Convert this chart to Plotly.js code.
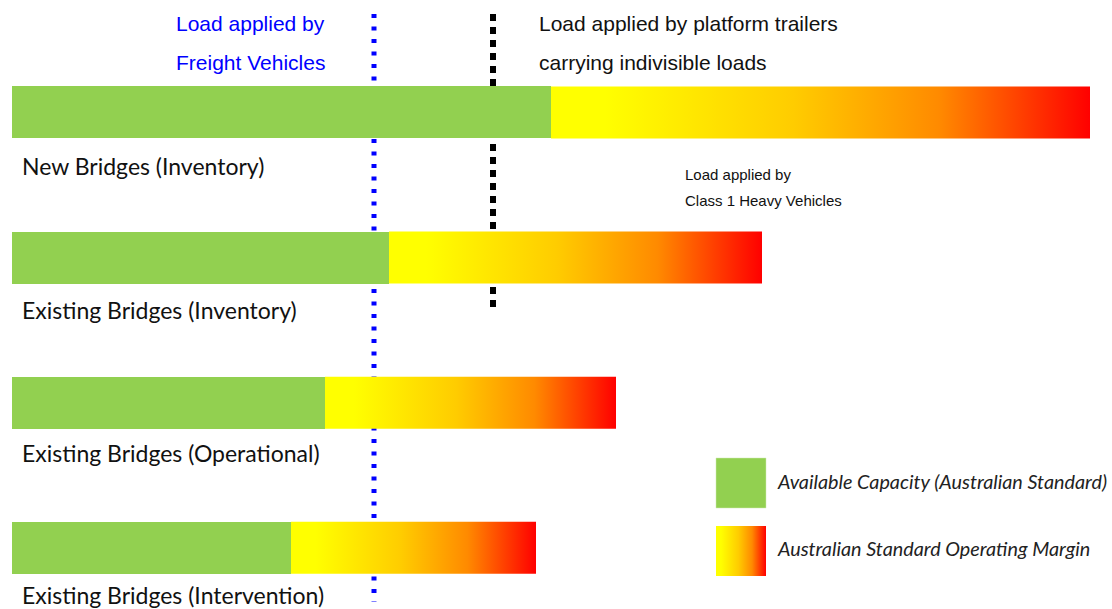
<!DOCTYPE html>
<html>
<head>
<meta charset="utf-8">
<script src="https://cdn.plot.ly/plotly-3.0.1.min.js"></script>
<style>html,body{margin:0;padding:0;background:#fff;}#chart{width:1112px;height:609px;}</style>
</head>
<body>
<div id="chart"></div>
<script>
// ---- data ----
const categories = ["New Bridges (Inventory)", "Existing Bridges (Inventory)", "Existing Bridges (Operational)", "Existing Bridges (Intervention)"];
const availableCapacity = [539, 377, 313, 279];      // green segment end
const operatingLimit = [1078, 750, 604, 524];        // end of operating margin
const freightLoad = 362;                              // blue dotted line
const platformTrailerLoad = 481;                      // black dotted line
const legendLabels = ["Available Capacity (Australian Standard)", "Australian Standard Operating Margin"];

// ---- styling ----
const W = 1112, H = 609;
const GREEN = '#92D050';
const gradScale = [[0, '#ffff00'], [0.1, '#ffff00'], [0.45, '#ffcc00'], [0.72, '#ff8a00'], [1, '#ff0000']];
const barHalf = 0.179;
const labelShift = [-54, -52, -50, -47];
const px = v => v / W;
const py = v => 1 - v / H;

const yIdx = categories.map((_, i) => i);

const traces = [];
traces.push({
  type: 'bar', orientation: 'h',
  y: yIdx, x: availableCapacity, base: 0,
  width: barHalf * 2,
  marker: {color: GREEN, line: {width: 0}},
  hoverinfo: 'skip', showlegend: false
});
categories.forEach((c, i) => {
  const g = availableCapacity[i], t = operatingLimit[i];
  traces.push({
    type: 'scatter', mode: 'lines',
    x: [g, t, t, g, g],
    y: [i - barHalf, i - barHalf, i + barHalf, i + barHalf, i - barHalf],
    fill: 'toself',
    fillcolor: '#ffcc00',
    fillgradient: {type: 'horizontal', colorscale: gradScale},
    line: {width: 0},
    hoverinfo: 'skip', showlegend: false
  });
});

const labelFont = {family: 'Lato, sans-serif', size: 23, color: '#111'};
const annotations = categories.map((c, i) => ({
  x: 0, y: i, xref: 'x', yref: 'y', xanchor: 'left', yanchor: 'middle',
  xshift: 8, yshift: labelShift[i], text: c, showarrow: false, font: labelFont
}));

const arial = 'Liberation Sans, Arial, sans-serif';
annotations.push(
  {xref: 'paper', yref: 'paper', x: px(250), y: py(24), xanchor: 'center', yanchor: 'middle', text: 'Load applied by', showarrow: false, font: {family: arial, size: 21, color: '#0000ff'}},
  {xref: 'paper', yref: 'paper', x: px(250), y: py(63), xanchor: 'center', yanchor: 'middle', text: 'Freight Vehicles', showarrow: false, font: {family: arial, size: 21, color: '#0000ff'}},
  {xref: 'paper', yref: 'paper', x: px(537), y: py(24), xanchor: 'left', yanchor: 'middle', text: 'Load applied by platform trailers', showarrow: false, font: {family: arial, size: 21, color: '#111'}},
  {xref: 'paper', yref: 'paper', x: px(537), y: py(63), xanchor: 'left', yanchor: 'middle', text: 'carrying indivisible loads', showarrow: false, font: {family: arial, size: 21, color: '#111'}},
  {xref: 'paper', yref: 'paper', x: px(683), y: py(174), xanchor: 'left', yanchor: 'middle', text: 'Load applied by', showarrow: false, font: {family: arial, size: 15, color: '#111'}},
  {xref: 'paper', yref: 'paper', x: px(683), y: py(200), xanchor: 'left', yanchor: 'middle', text: 'Class 1 Heavy Vehicles', showarrow: false, font: {family: arial, size: 15, color: '#111'}},
  {xref: 'paper', yref: 'paper', x: px(775), y: py(481), xanchor: 'left', yanchor: 'middle', text: '<i>' + legendLabels[0] + '</i>', showarrow: false, font: {family: 'Lato, sans-serif', size: 19.8, color: '#222'}},
  {xref: 'paper', yref: 'paper', x: px(775), y: py(548), xanchor: 'left', yanchor: 'middle', text: '<i>' + legendLabels[1] + '</i>', showarrow: false, font: {family: 'Lato, sans-serif', size: 19.8, color: '#222'}}
);

const shapes = [
  {type: 'line', layer: 'below', xref: 'x', yref: 'paper', x0: freightLoad, x1: freightLoad, y0: py(14), y1: py(602),
   line: {color: '#0000ff', width: 5, dash: '4px,8.5px'}},
  {type: 'line', layer: 'below', xref: 'x', yref: 'paper', x0: platformTrailerLoad, x1: platformTrailerLoad, y0: py(14), y1: py(312),
   line: {color: '#000', width: 6, dash: '7px,6px'}},
  {type: 'rect', xref: 'paper', yref: 'paper', x0: px(716), x1: px(766), y0: py(458), y1: py(508),
   fillcolor: GREEN, line: {width: 0.5, color: '#cde8b0'}}
];

const gradSvg = '<svg xmlns="http://www.w3.org/2000/svg" width="50" height="50"><defs><linearGradient id="g" x1="0" x2="1" y1="0" y2="0">' +
  gradScale.map(s => '<stop offset="' + s[0] + '" stop-color="' + s[1] + '"/>').join('') +
  '</linearGradient></defs><rect width="50" height="50" fill="url(#g)"/></svg>';
const images = [{
  source: 'data:image/svg+xml;charset=utf-8,' + encodeURIComponent(gradSvg),
  xref: 'paper', yref: 'paper', x: px(716), y: py(526), sizex: px(50), sizey: 50 / H,
  xanchor: 'left', yanchor: 'top', sizing: 'stretch', layer: 'above'
}];

const layout = {
  width: W, height: H,
  margin: {l: 0, r: 0, t: 0, b: 0},
  paper_bgcolor: '#fff', plot_bgcolor: '#fff',
  showlegend: false,
  xaxis: {range: [-12, 1100], visible: false, fixedrange: true},
  yaxis: {range: [3.4213, -0.7744], visible: false, fixedrange: true},
  bargap: 0,
  annotations, shapes, images
};

Plotly.newPlot('chart', traces, layout, {staticPlot: true, displayModeBar: false});
</script>
</body>
</html>
